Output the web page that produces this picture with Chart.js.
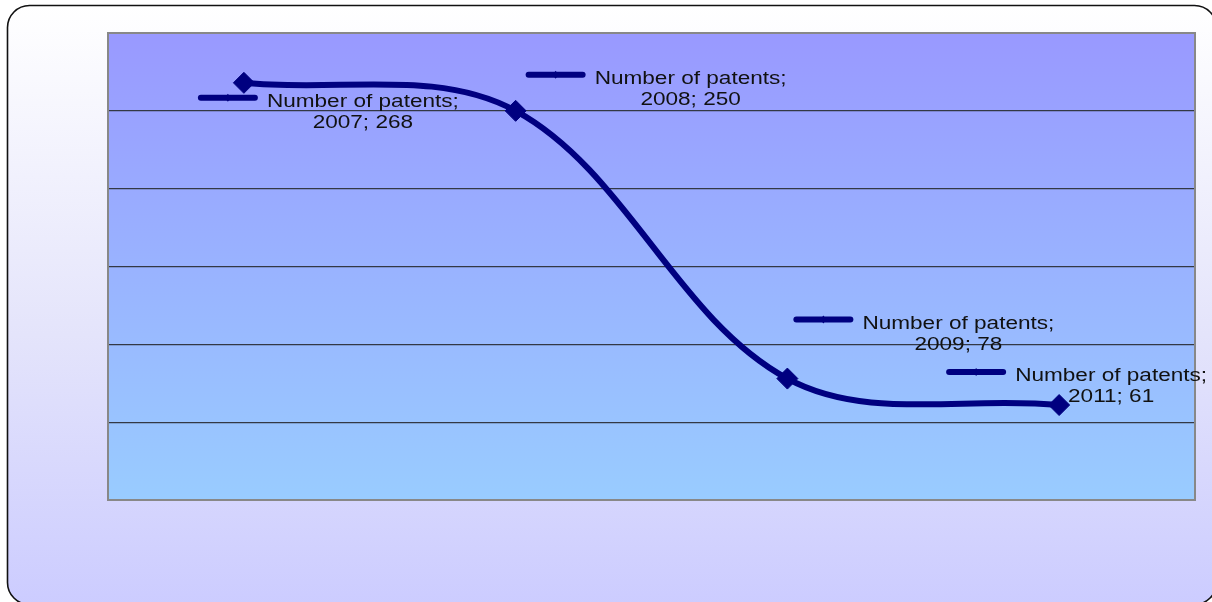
<!DOCTYPE html>
<html>
<head>
<meta charset="utf-8">
<style>
  html, body { margin: 0; padding: 0; background: #ffffff; }
  #wrap { position: relative; width: 1212px; height: 602px; }
  canvas { display: block; }
</style>
<script src="https://cdn.jsdelivr.net/npm/chart.js@4/dist/chart.umd.min.js"></script>
</head>
<body>
<div id="wrap"><canvas id="chart" width="1212" height="602"></canvas></div>
<script>
// Series data
const categories = ['2007', '2008', '2009', '2011'];
const seriesName = 'Number of patents';
const patents = [268, 250, 78, 61];
// Value axis range (ticks hidden, gridlines every 50)
const yMin = 0;
const yMax = 300;
const yStep = 50;

const NAVY = '#000080';
const FONT = '"Liberation Sans", Arial, sans-serif';

// Rounded outer frame with a soft vertical gradient, plus the plot-area fill
const backdrop = {
  id: 'backdrop',
  beforeDraw(chart) {
    const ctx = chart.ctx;
    const W = chart.width, H = chart.height;
    ctx.save();
    ctx.fillStyle = '#ffffff';
    ctx.fillRect(0, 0, W, H);

    const fx = 7.5, fy = 5.5, fw = 1209, fh = 599, r = 22;
    const g = ctx.createLinearGradient(0, fy, 0, fy + fh);
    g.addColorStop(0, '#ffffff');
    g.addColorStop(0.55, '#e4e4fb');
    g.addColorStop(1, '#ccccff');
    ctx.beginPath();
    ctx.roundRect(fx, fy, fw, fh, r);
    ctx.fillStyle = g;
    ctx.fill();
    ctx.lineWidth = 1.6;
    ctx.strokeStyle = '#111111';
    ctx.stroke();

    const a = chart.chartArea;
    const pg = ctx.createLinearGradient(0, a.top, 0, a.bottom);
    pg.addColorStop(0, '#9999ff');
    pg.addColorStop(1, '#99ccff');
    ctx.fillStyle = pg;
    ctx.fillRect(a.left, a.top, a.right - a.left, a.bottom - a.top);
    ctx.restore();
  },
  beforeDatasetsDraw(chart) {
    const ctx = chart.ctx;
    const a = chart.chartArea;
    ctx.save();
    ctx.lineWidth = 2;
    ctx.strokeStyle = '#888888';
    ctx.strokeRect(a.left, a.top, a.right - a.left, a.bottom - a.top);
    ctx.restore();
  }
};

// Data labels: a legend key followed by "series; category; value"
const keyLabels = {
  id: 'keyLabels',
  afterDatasetsDraw(chart, args, opts) {
    const ctx = chart.ctx;
    const meta = chart.getDatasetMeta(0);
    ctx.save();
    ctx.font = `${opts.fontSize}px ${FONT}`;
    meta.data.forEach((el, i) => {
      const off = opts.offsets[i];
      const kx = el.x + off[0];
      const ky = el.y + off[1];

      // legend key line with a tiny marker
      ctx.beginPath();
      ctx.lineCap = 'round';
      ctx.lineWidth = 6;
      ctx.strokeStyle = NAVY;
      ctx.moveTo(kx + 3, ky);
      ctx.lineTo(kx + 57, ky);
      ctx.stroke();
      ctx.beginPath();
      ctx.moveTo(kx + 30, ky - 4);
      ctx.lineTo(kx + 33, ky);
      ctx.lineTo(kx + 30, ky + 4);
      ctx.lineTo(kx + 27, ky);
      ctx.closePath();
      ctx.fillStyle = NAVY;
      ctx.fill();

      // label text
      const line1 = seriesName + ';';
      const line2 = categories[i] + '; ' + chart.data.datasets[0].data[i];
      const w1 = ctx.measureText(line1).width * opts.stretch;
      const cx = kx + 69 + w1 / 2;
      ctx.fillStyle = '#111111';
      ctx.textAlign = 'center';
      ctx.textBaseline = 'alphabetic';
      [[line1, ky + 9], [line2, ky + 30]].forEach(([t, by]) => {
        ctx.save();
        ctx.translate(cx, by);
        ctx.scale(opts.stretch, 1);
        ctx.fillText(t, 0, 0);
        ctx.restore();
      });
    });
    ctx.restore();
  }
};

new Chart(document.getElementById('chart'), {
  type: 'line',
  data: {
    labels: categories,
    datasets: [{
      label: seriesName,
      data: patents,
      borderColor: NAVY,
      borderWidth: 6,
      tension: 0.35,
      fill: false,
      clip: false,
      pointStyle: 'rectRot',
      pointRadius: 10.5,
      pointHoverRadius: 10.5,
      pointBackgroundColor: NAVY,
      pointBorderColor: NAVY,
      pointBorderWidth: 1
    }]
  },
  options: {
    responsive: false,
    animation: false,
    events: [],
    layout: { padding: { left: 108, top: 33, right: 17, bottom: 102 } },
    scales: {
      x: {
        type: 'category',
        offset: true,
        display: false
      },
      y: {
        min: yMin,
        max: yMax,
        display: true,
        ticks: { display: false, stepSize: yStep },
        grid: { drawTicks: false, color: '#333845', lineWidth: 1.2 },
        border: { display: false }
      }
    },
    plugins: {
      legend: { display: false },
      tooltip: { enabled: false },
      keyLabels: {
        fontSize: 17.5,
        stretch: 1.29,
        offsets: [[-46, 15], [10, -36], [6, -59], [-113, -33]]
      }
    }
  },
  plugins: [backdrop, keyLabels]
});
</script>
</body>
</html>
